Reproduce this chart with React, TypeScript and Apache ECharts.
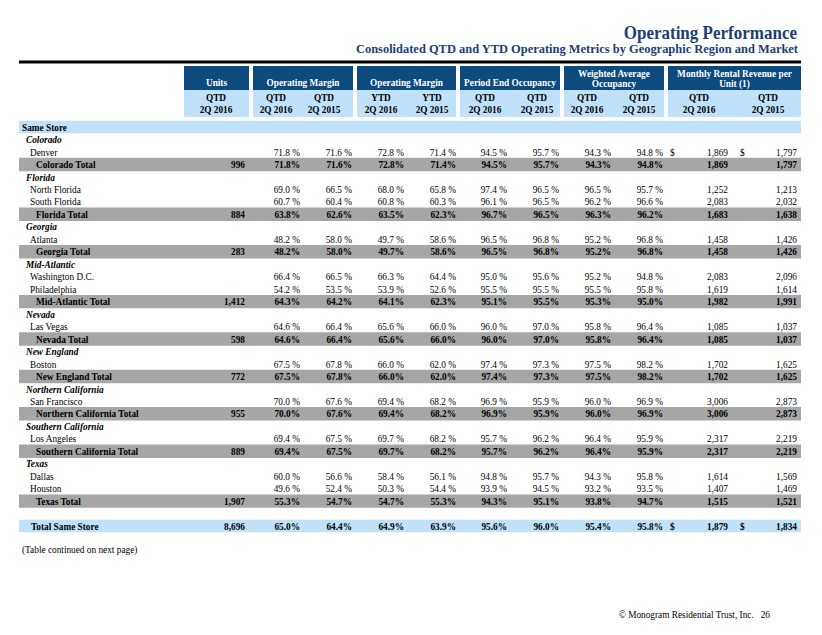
import React, { useEffect, useRef } from "react";
import * as echarts from "echarts";

const titleText = "Operating Performance";
const subtitleText = "Consolidated QTD and YTD Operating Metrics by Geographic Region and Market";
const groupHeaders = ["Units", "Operating Margin", "Operating Margin", "Period End Occupancy", "Weighted Average\nOccupancy", "Monthly Rental Revenue per\nUnit (1)"];
const periodLabels = ["QTD", "QTD", "QTD", "YTD", "YTD", "QTD", "QTD", "QTD", "QTD", "QTD", "QTD"];
const quarterLabels = ["2Q 2016", "2Q 2016", "2Q 2015", "2Q 2016", "2Q 2015", "2Q 2016", "2Q 2015", "2Q 2016", "2Q 2015", "2Q 2016", "2Q 2015"];
const footNote = "(Table continued on next page)";
const footerText = "© Monogram Residential Trust, Inc.   26";

const rowLabels = [
  "Same Store", "Colorado", "Denver", "Colorado Total",
  "Florida", "North Florida", "South Florida", "Florida Total",
  "Georgia", "Atlanta", "Georgia Total",
  "Mid-Atlantic", "Washington D.C.", "Philadelphia", "Mid-Atlantic Total",
  "Nevada", "Las Vegas", "Nevada Total",
  "New England", "Boston", "New England Total",
  "Northern California", "San Francisco", "Northern California Total",
  "Southern California", "Los Angeles", "Southern California Total",
  "Texas", "Dallas", "Houston", "Texas Total",
  "", "Total Same Store",
];
const rowKinds = [
  "section", "region", "market", "total",
  "region", "market", "market", "total",
  "region", "market", "total",
  "region", "market", "market", "total",
  "region", "market", "total",
  "region", "market", "total",
  "region", "market", "total",
  "region", "market", "total",
  "region", "market", "market", "total",
  "blank", "grand",
];
const dollarRows = [2, 32];

const N = null;
const units = [N, N, N, 996, N, N, N, 884, N, N, 283, N, N, N, 1412, N, N, 598, N, N, 772, N, N, 955, N, N, 889, N, N, N, 1907, N, 8696];
const opMarginQtd2016 = [N, N, 71.8, 71.8, N, 69.0, 60.7, 63.8, N, 48.2, 48.2, N, 66.4, 54.2, 64.3, N, 64.6, 64.6, N, 67.5, 67.5, N, 70.0, 70.0, N, 69.4, 69.4, N, 60.0, 49.6, 55.3, N, 65.0];
const opMarginQtd2015 = [N, N, 71.6, 71.6, N, 66.5, 60.4, 62.6, N, 58.0, 58.0, N, 66.5, 53.5, 64.2, N, 66.4, 66.4, N, 67.8, 67.8, N, 67.6, 67.6, N, 67.5, 67.5, N, 56.6, 52.4, 54.7, N, 64.4];
const opMarginYtd2016 = [N, N, 72.8, 72.8, N, 68.0, 60.8, 63.5, N, 49.7, 49.7, N, 66.3, 53.9, 64.1, N, 65.6, 65.6, N, 66.0, 66.0, N, 69.4, 69.4, N, 69.7, 69.7, N, 58.4, 50.3, 54.7, N, 64.9];
const opMarginYtd2015 = [N, N, 71.4, 71.4, N, 65.8, 60.3, 62.3, N, 58.6, 58.6, N, 64.4, 52.6, 62.3, N, 66.0, 66.0, N, 62.0, 62.0, N, 68.2, 68.2, N, 68.2, 68.2, N, 56.1, 54.4, 55.3, N, 63.9];
const endOcc2016 = [N, N, 94.5, 94.5, N, 97.4, 96.1, 96.7, N, 96.5, 96.5, N, 95.0, 95.5, 95.1, N, 96.0, 96.0, N, 97.4, 97.4, N, 96.9, 96.9, N, 95.7, 95.7, N, 94.8, 93.9, 94.3, N, 95.6];
const endOcc2015 = [N, N, 95.7, 95.7, N, 96.5, 96.5, 96.5, N, 96.8, 96.8, N, 95.6, 95.5, 95.5, N, 97.0, 97.0, N, 97.3, 97.3, N, 95.9, 95.9, N, 96.2, 96.2, N, 95.7, 94.5, 95.1, N, 96.0];
const avgOcc2016 = [N, N, 94.3, 94.3, N, 96.5, 96.2, 96.3, N, 95.2, 95.2, N, 95.2, 95.5, 95.3, N, 95.8, 95.8, N, 97.5, 97.5, N, 96.0, 96.0, N, 96.4, 96.4, N, 94.3, 93.2, 93.8, N, 95.4];
const avgOcc2015 = [N, N, 94.8, 94.8, N, 95.7, 96.6, 96.2, N, 96.8, 96.8, N, 94.8, 95.8, 95.0, N, 96.4, 96.4, N, 98.2, 98.2, N, 96.9, 96.9, N, 95.9, 95.9, N, 95.8, 93.5, 94.7, N, 95.8];
const revenue2016 = [N, N, 1869, 1869, N, 1252, 2083, 1683, N, 1458, 1458, N, 2083, 1619, 1982, N, 1085, 1085, N, 1702, 1702, N, 3006, 3006, N, 2317, 2317, N, 1614, 1407, 1515, N, 1879];
const revenue2015 = [N, N, 1797, 1797, N, 1213, 2032, 1638, N, 1426, 1426, N, 2096, 1614, 1991, N, 1037, 1037, N, 1625, 1625, N, 2873, 2873, N, 2219, 2219, N, 1569, 1469, 1521, N, 1834];

const valueColumns = [
  { data: units, fmt: "int" },
  { data: opMarginQtd2016, fmt: "pct" },
  { data: opMarginQtd2015, fmt: "pct" },
  { data: opMarginYtd2016, fmt: "pct" },
  { data: opMarginYtd2015, fmt: "pct" },
  { data: endOcc2016, fmt: "pct" },
  { data: endOcc2015, fmt: "pct" },
  { data: avgOcc2016, fmt: "pct" },
  { data: avgOcc2015, fmt: "pct" },
  { data: revenue2016, fmt: "int" },
  { data: revenue2015, fmt: "int" },
];

// layout
const SX = 0.93;
const FONT = "'Liberation Serif', 'Times New Roman', serif";
const NAVY = "#0d4a7e";
const TITLE_NAVY = "#1c3f73";
const LIGHT = "#bfe2fa";
const GRAY = "#a6a6a6";
const colRight = [245, 300, 352, 404, 456, 507, 559, 611, 663, 728, 797];
const dollarX = [670, 740];
const headerCenters = [216, 276, 324, 381, 432, 485, 537, 587, 639, 699, 768];
const boxes = [[184, 249], [253, 353], [357, 456], [460, 560], [564, 664], [668, 801]];
const TABLE_L = 19;
const TABLE_R = 801;

function fmtValue(v: number, fmt: string, bold: boolean) {
  if (fmt === "pct") return v.toFixed(1) + (bold ? "%" : " %");
  return v.toLocaleString("en-US");
}

function txt(text: string, x: number, y: number, font: string, fill: string, align: string) {
  return {
    type: "text",
    x,
    y,
    scaleX: SX,
    silent: true,
    style: { text, font, fill, align, verticalAlign: "middle" },
  };
}

export default function App() {
  const ref = useRef<HTMLDivElement>(null);
  useEffect(() => {
    if (!ref.current) return;
    const chart = echarts.init(ref.current, undefined, { renderer: "svg" });

    const graphics: any[] = [];
    graphics.push(txt(titleText, 797, 33, `bold 18.3px ${FONT}`, TITLE_NAVY, "right"));
    graphics.push(txt(subtitleText, 798, 48, `bold 13.4px ${FONT}`, TITLE_NAVY, "right"));
    graphics.push({ type: "rect", shape: { x: TABLE_L, y: 60.5, width: TABLE_R - TABLE_L, height: 3 }, style: { fill: "#000" }, silent: true });
    boxes.forEach((b, k) => {
      graphics.push({ type: "rect", shape: { x: b[0], y: 66, width: b[1] - b[0], height: 24 }, style: { fill: NAVY }, silent: true });
      graphics.push({ type: "rect", shape: { x: b[0], y: 90, width: b[1] - b[0], height: 27 }, style: { fill: LIGHT }, silent: true });
      const lines = groupHeaders[k].split("\n");
      const cx = (b[0] + b[1]) / 2;
      if (lines.length === 1) {
        graphics.push(txt(lines[0], cx, 82, `bold 10px ${FONT}`, "#fff", "center"));
      } else {
        graphics.push(txt(lines[0], cx, 73, `bold 10px ${FONT}`, "#fff", "center"));
        graphics.push(txt(lines[1], cx, 83, `bold 10px ${FONT}`, "#fff", "center"));
      }
    });
    headerCenters.forEach((cx, k) => {
      graphics.push(txt(periodLabels[k], cx, 97, `bold 10px ${FONT}`, "#000", "center"));
      graphics.push(txt(quarterLabels[k], cx, 109, `bold 10px ${FONT}`, "#000", "center"));
    });
    graphics.push(txt(footNote, 22, 549, `10px ${FONT}`, "#000", "left"));
    graphics.push(txt(footerText, 770, 614, `10px ${FONT}`, "#000", "right"));

    chart.setOption({
      animation: false,
      grid: { left: 0, right: 0, top: 120.8, height: 33 * 12.47 },
      xAxis: { type: "value", min: 0, max: 822, show: false },
      yAxis: { type: "category", inverse: true, show: false, data: rowLabels.map((_, i) => String(i)) },
      graphic: graphics,
      series: [
        {
          type: "custom",
          clip: false,
          silent: true,
          data: rowLabels.map((_, i) => [0, i]),
          renderItem: (params: any, api: any) => {
            const i = params.dataIndex;
            const y = api.coord([0, i])[1];
            const h = api.size([0, 1])[1];
            const kind = rowKinds[i];
            const children: any[] = [];
            if (kind === "section" || kind === "grand") {
              children.push({ type: "rect", shape: { x: TABLE_L, y: y - h / 2, width: TABLE_R - TABLE_L, height: h }, style: { fill: LIGHT } });
            }
            if (kind === "total") {
              children.push({ type: "rect", shape: { x: TABLE_L, y: y - h / 2 - 0.5, width: TABLE_R - TABLE_L, height: h + 1 }, style: { fill: GRAY } });
            }
            const bold = kind === "total" || kind === "grand" || kind === "section";
            let lx = 30;
            let font = `10px ${FONT}`;
            if (kind === "section") { lx = 22; font = `bold 10px ${FONT}`; }
            else if (kind === "region") { lx = 26; font = `italic bold 10px ${FONT}`; }
            else if (kind === "total") { lx = 36; font = `bold 10px ${FONT}`; }
            else if (kind === "grand") { lx = 31; font = `bold 10px ${FONT}`; }
            if (rowLabels[i]) children.push(txt(rowLabels[i], lx, y, font, "#000", "left"));
            const vfont = bold ? `bold 10px ${FONT}` : `10px ${FONT}`;
            valueColumns.forEach((c, k) => {
              const v = c.data[i];
              if (v === null || v === undefined) return;
              children.push(txt(fmtValue(v as number, c.fmt, bold), colRight[k], y, vfont, "#000", "right"));
            });
            if (dollarRows.indexOf(i) >= 0) {
              dollarX.forEach((dx) => children.push(txt("$", dx, y, vfont, "#000", "left")));
            }
            return { type: "group", children };
          },
        },
      ],
    });
    return () => chart.dispose();
  }, []);
  return <div ref={ref} style={{ position: "absolute", left: 0, top: 0, width: 822, height: 635, background: "#fff" }} />;
}
